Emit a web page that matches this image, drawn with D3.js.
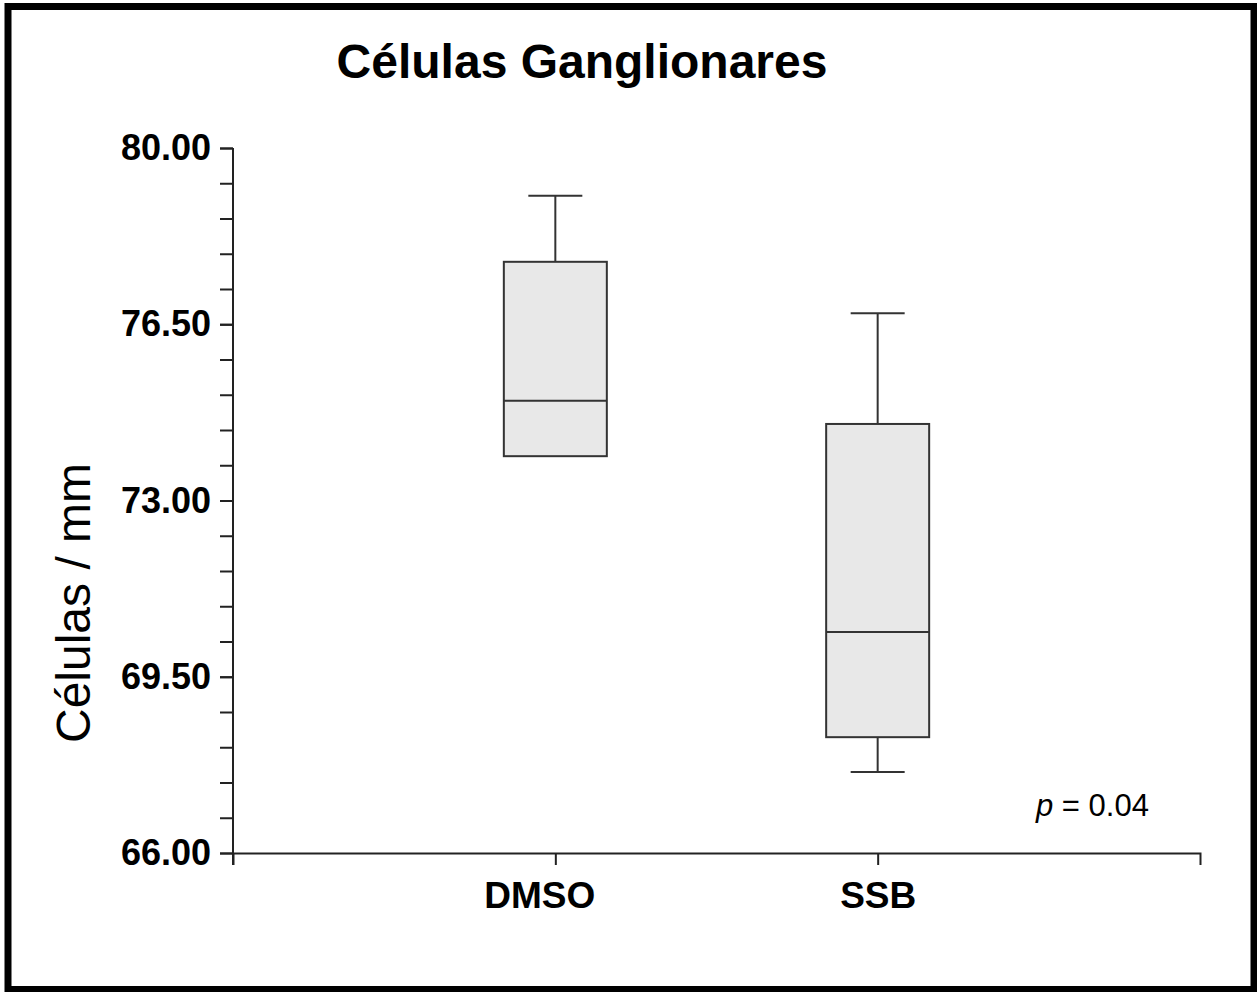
<!DOCTYPE html>
<html>
<head>
<meta charset="utf-8">
<script src="https://cdn.jsdelivr.net/npm/d3@7"></script>
<style>
  body { margin: 0; background: #fff; }
  svg { display: block; font-family: "Liberation Sans", Arial, sans-serif; }
</style>
</head>
<body>
<svg></svg>
<script>
// box plot data
var groups  = ["DMSO", "SSB"];
var mins    = [73.88, 67.61];
var q1s     = [73.88, 68.30];
var medians = [74.98, 70.39];
var q3s     = [77.74, 74.52];
var maxs    = [79.05, 76.72];
var yTicks  = [66.00, 69.50, 73.00, 76.50, 80.00];

var svgWidth = 1257, svgHeight = 992;
var plotLeft = 233, plotRight = 1200, plotTop = 148, plotBottom = 853;

var svg = d3.select("svg")
    .attr("width", svgWidth)
    .attr("height", svgHeight);

// frame round the whole picture
svg.append("rect")
    .attr("x", 8).attr("y", 6.5)
    .attr("width", 1246).attr("height", 983)
    .attr("fill", "#fff")
    .attr("stroke", "#000")
    .attr("stroke-width", 7);

var y = d3.scaleLinear().domain([66, 80]).range([plotBottom, plotTop]);
var x = d3.scalePoint().domain(groups).range([plotLeft, plotRight]).padding(1);

// minor ticks every 0.7
svg.append("g")
    .attr("transform", "translate(" + plotLeft + ",0)")
    .call(d3.axisLeft(y).tickValues(d3.range(0, 21).map(function(i){ return 66 + i * 0.7; }))
        .tickSize(13).tickFormat(""))
    .call(function(g){ g.select(".domain").remove(); })
    .selectAll("line").attr("stroke", "#222").attr("stroke-width", 2);

// major ticks with labels
var yAxis = svg.append("g")
    .attr("transform", "translate(" + plotLeft + ",0)")
    .call(d3.axisLeft(y).tickValues(yTicks).tickSize(13).tickPadding(9)
        .tickFormat(d3.format(".2f")));
yAxis.select(".domain").remove();
yAxis.selectAll("line").attr("stroke", "#222").attr("stroke-width", 2);
yAxis.selectAll("text")
    .attr("font-size", 36).attr("font-weight", "bold")
    .attr("font-family", "Liberation Sans, Arial, sans-serif")
    .attr("fill", "#000");

// y axis line runs a little below the x axis
svg.append("line")
    .attr("x1", plotLeft).attr("x2", plotLeft)
    .attr("y1", plotTop).attr("y2", plotBottom + 12)
    .attr("stroke", "#222").attr("stroke-width", 2);

var xAxis = svg.append("g")
    .attr("transform", "translate(0," + plotBottom + ")")
    .call(d3.axisBottom(x).tickSizeInner(12).tickSizeOuter(12).tickPadding(17));
xAxis.select(".domain").attr("stroke", "#222").attr("stroke-width", 2);
xAxis.selectAll("line").attr("stroke", "#222").attr("stroke-width", 2);
xAxis.selectAll("text")
    .attr("font-size", 37).attr("font-weight", "bold")
    .attr("font-family", "Liberation Sans, Arial, sans-serif")
    .attr("fill", "#000")
    .attr("dx", function(d){ return d === "DMSO" ? -16 : 0; }); // original label sits left of its tick

// boxes
var boxW = 103, capW = 54;
var boxes = svg.selectAll("g.box")
    .data(groups)
    .enter()
    .append("g")
    .attr("class", "box");

boxes.append("line") // upper whisker
    .attr("x1", function(d){ return x(d); })
    .attr("x2", function(d){ return x(d); })
    .attr("y1", function(d,i){ return y(q3s[i]); })
    .attr("y2", function(d,i){ return y(maxs[i]); });
boxes.append("line") // upper cap
    .attr("x1", function(d){ return x(d) - capW/2; })
    .attr("x2", function(d){ return x(d) + capW/2; })
    .attr("y1", function(d,i){ return y(maxs[i]); })
    .attr("y2", function(d,i){ return y(maxs[i]); });
boxes.filter(function(d,i){ return mins[i] < q1s[i]; })
    .each(function(d){
        var i = groups.indexOf(d);
        var g = d3.select(this);
        g.append("line")
            .attr("x1", x(d)).attr("x2", x(d))
            .attr("y1", y(q1s[i])).attr("y2", y(mins[i]));
        g.append("line")
            .attr("x1", x(d) - capW/2).attr("x2", x(d) + capW/2)
            .attr("y1", y(mins[i])).attr("y2", y(mins[i]));
    });
boxes.append("rect")
    .attr("x", function(d){ return x(d) - boxW/2; })
    .attr("y", function(d,i){ return y(q3s[i]); })
    .attr("width", boxW)
    .attr("height", function(d,i){ return y(q1s[i]) - y(q3s[i]); })
    .attr("fill", "#e8e8e8");
boxes.append("line") // median
    .attr("x1", function(d){ return x(d) - boxW/2; })
    .attr("x2", function(d){ return x(d) + boxW/2; })
    .attr("y1", function(d,i){ return y(medians[i]); })
    .attr("y2", function(d,i){ return y(medians[i]); });
boxes.selectAll("line, rect")
    .attr("stroke", "#333")
    .attr("stroke-width", 2);

// titles
svg.append("text")
    .attr("x", 582).attr("y", 78)
    .attr("text-anchor", "middle")
    .attr("font-size", 48).attr("font-weight", "bold")
    .text("Células Ganglionares");

svg.append("text")
    .attr("transform", "translate(90," + 603 + ") rotate(-90)")
    .attr("text-anchor", "middle")
    .attr("font-size", 48)
    .text("Células / mm");

var p = svg.append("text")
    .attr("x", 1036).attr("y", 816)
    .attr("font-size", 31);
p.append("tspan").attr("font-style", "italic").text("p");
p.append("tspan").text(" = 0.04");
</script>
</body>
</html>
